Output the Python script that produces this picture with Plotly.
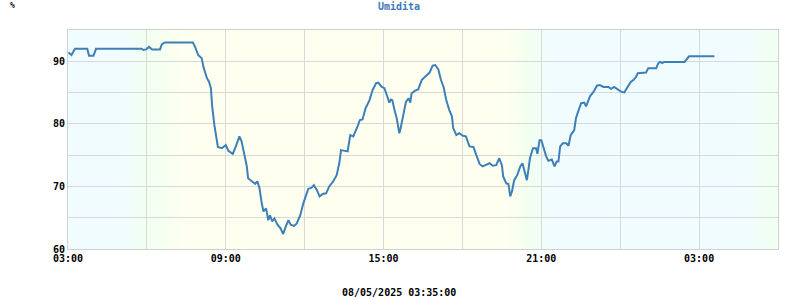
import plotly.graph_objects as go
from datetime import datetime, timedelta

# Time stamps (07/05/2025 -> 08/05/2025) and humidity values (%)
times = [
    "03:01", "03:08", "03:16", "03:44", "03:48", "03:58", "04:04", "05:48", "05:52", "05:58",
    "06:05", "06:12", "06:30", "06:34", "06:41", "07:45", "07:50", "07:57", "08:05", "08:09",
    "08:17", "08:22", "08:26", "08:29", "08:34", "08:38", "08:42", "08:51", "09:00", "09:06",
    "09:16", "09:23", "09:31", "09:36", "09:42", "09:48", "09:51", "09:59", "10:07", "10:12",
    "10:17", "10:22", "10:26", "10:32", "10:37", "10:41", "10:46", "10:51", "10:58", "11:05",
    "11:11", "11:17", "11:23", "11:28", "11:36", "11:42", "11:50", "11:57", "12:03", "12:08",
    "12:16", "12:21", "12:28", "12:34", "12:41", "12:49", "12:56", "13:05", "13:13", "13:19",
    "13:23", "13:30", "13:38", "13:44", "13:51", "13:59", "14:06", "14:12", "14:19", "14:28",
    "14:35", "14:43", "14:48", "14:56", "15:02", "15:09", "15:13", "15:17", "15:20", "15:25",
    "15:30", "15:36", "15:39", "15:45", "15:51", "15:57", "16:01", "16:04", "16:12", "16:19",
    "16:27", "16:39", "16:45", "16:52", "16:58", "17:05", "17:11", "17:17", "17:23", "17:30",
    "17:36", "17:39", "17:46", "17:53", "18:01", "18:08", "18:16", "18:25", "18:31", "18:39",
    "18:46", "18:54", "19:02", "19:09", "19:17", "19:24", "19:30", "19:33", "19:40", "19:45",
    "19:49", "19:53", "19:58", "20:05", "20:12", "20:17", "20:23", "20:27", "20:31", "20:34",
    "20:41", "20:48", "20:51", "20:56", "21:00", "21:05", "21:11", "21:16", "21:24", "21:30",
    "21:35", "21:39", "21:43", "21:49", "21:57", "22:02", "22:07", "22:15", "22:19", "22:25",
    "22:31", "22:38", "22:42", "22:46", "22:51", "22:59", "23:07", "23:13", "23:22", "23:33",
    "23:39", "23:46", "23:54", "00:01", "00:09", "00:16", "00:24", "00:30", "00:36", "00:40",
    "00:53", "00:59", "01:04", "01:22", "01:27", "01:31", "01:36", "01:40", "02:27", "02:32",
    "02:37", "03:35",
]
humidity = [
    91.4, 91.0, 92.0, 92.0, 90.9, 90.9, 92.0, 92.0, 91.8, 91.9,
    92.3, 91.9, 91.9, 92.7, 93.0, 93.0, 92.3, 91.0, 90.5, 89.1,
    87.3, 86.7, 85.7, 82.8, 79.8, 78.0, 76.3, 76.1, 76.6, 75.7,
    75.2, 76.4, 78.0, 77.2, 75.3, 73.2, 71.3, 70.8, 70.4, 70.8,
    69.7, 67.3, 66.0, 66.5, 64.6, 65.4, 64.4, 64.9, 63.9, 63.3,
    62.4, 63.6, 64.6, 63.9, 63.7, 64.1, 65.4, 67.3, 68.6, 69.6,
    69.8, 70.2, 69.4, 68.4, 68.8, 68.9, 70.0, 70.8, 71.8, 73.7,
    75.8, 75.7, 75.6, 78.2, 78.0, 79.3, 80.6, 80.7, 82.5, 83.8,
    85.4, 86.5, 86.6, 85.9, 85.7, 84.3, 83.4, 83.9, 83.8, 82.2,
    80.9, 78.5, 79.3, 81.4, 83.5, 84.1, 83.4, 84.9, 85.3, 85.5,
    87.0, 87.8, 88.2, 89.3, 89.4, 88.7, 87.0, 85.9, 83.8, 82.2,
    81.2, 79.3, 78.2, 78.5, 78.1, 78.0, 76.4, 76.3, 75.0, 73.6,
    73.2, 73.4, 73.7, 73.3, 73.4, 74.5, 73.4, 71.6, 70.5, 70.4,
    68.4, 69.2, 71.0, 71.8, 73.2, 73.7, 71.8, 71.0, 72.9, 74.5,
    76.1, 76.1, 75.2, 77.4, 77.4, 76.1, 74.8, 74.1, 74.3, 73.2,
    74.0, 74.0, 76.4, 76.9, 76.9, 76.5, 78.2, 79.0, 80.9, 82.2,
    83.3, 83.4, 82.8, 83.5, 84.4, 85.1, 86.1, 86.2, 85.9, 85.9,
    85.6, 85.9, 85.5, 85.2, 85.0, 85.9, 86.7, 87.0, 87.5, 88.1,
    88.1, 88.2, 88.9, 88.9, 89.7, 89.9, 89.7, 89.9, 89.9, 90.3,
    90.8, 90.8,
]
y_ticks = [60, 70, 80, 90]
title_text = "Umidita"
unit_text = "%"
footer_text = "08/05/2025 03:35:00"

# Build datetimes (day rolls over after midnight)
day1 = datetime(2025, 5, 7)
x = []
prev = -1
day = day1
for t in times:
    h, m = map(int, t.split(":"))
    mins = h * 60 + m
    if mins < prev:
        day = day + timedelta(days=1)
    prev = mins
    x.append(day + timedelta(hours=h, minutes=m))

x0 = datetime(2025, 5, 7, 3, 0)
x1 = datetime(2025, 5, 8, 6, 0)

# Day/night background gradient (hours since 03:00 -> rgb)
CY = (240, 252, 255)
GR = (240, 255, 240)
YE = (255, 255, 240)
stops = [(0, CY), (2.0, CY), (3.0, GR), (4.6, YE), (16.6, YE), (17.6, GR),
         (18.4, CY), (25.6, CY), (27.0, GR)]

def col_at(hh):
    for (a, ca), (b, cb) in zip(stops[:-1], stops[1:]):
        if a <= hh <= b:
            f = 0 if b == a else (hh - a) / (b - a)
            return tuple(round(ca[i] + (cb[i] - ca[i]) * f) for i in range(3))
    return stops[-1][1]

shapes = []
step = 0.1
n = int(27 / step)
for i in range(n):
    a = i * step
    c = col_at(a + step / 2)
    shapes.append(dict(type="rect", xref="x", yref="paper",
                       x0=x0 + timedelta(hours=a), x1=x0 + timedelta(hours=a + step + 0.02),
                       y0=0, y1=1, fillcolor="rgb(%d,%d,%d)" % c,
                       line=dict(width=0), layer="below"))

font = dict(family="DejaVu Sans Mono", size=10, color="#000000")

fig = go.Figure()
fig.add_trace(go.Scatter(x=x, y=humidity, mode="lines",
                         line=dict(color="#3d80b8", width=2),
                         hoverinfo="skip", showlegend=False))

fig.update_layout(
    width=800, height=300,
    margin=dict(l=68, r=22, t=30, b=51),
    paper_bgcolor="white", plot_bgcolor="white",
    shapes=shapes,
    font=font,
    xaxis=dict(range=[x0, x1], type="date", tick0=x0, dtick=6 * 3600 * 1000,
               tickformat="<b>%H:%M</b>", showgrid=True, gridcolor="#d9d9d9", gridwidth=1,
               minor=dict(dtick=3 * 3600 * 1000, tick0=x0, showgrid=True, gridcolor="#d9d9d9", gridwidth=1),
               showline=True, linecolor="#d0d0d0", linewidth=1, mirror=True,
               ticks="", zeroline=False, tickfont=font),
    yaxis=dict(range=[60, 95], tickvals=y_ticks, ticktext=["<b>%d</b>" % v for v in y_ticks],
               showgrid=True, gridcolor="#d9d9d9", gridwidth=1,
               minor=dict(dtick=5, tick0=60, showgrid=True, gridcolor="#d9d9d9", gridwidth=1),
               showline=True, linecolor="#d0d0d0", linewidth=1, mirror=True,
               ticks="", zeroline=False, tickfont=font),
    annotations=[
        dict(text="<b>%s</b>" % title_text, x=0.5, xref="paper", xanchor="center",
             y=6, yref="paper", yanchor="middle", showarrow=False,
             font=dict(family="DejaVu Sans Mono", size=10, color="#3d7ab8")),
    ],
)

# position annotations in pixel terms via paper coords
plot_h = 300 - 30 - 51
plot_w = 800 - 68 - 22
def py(ypix):
    return (300 - 51 - ypix) / plot_h
def px(xpix):
    return (xpix - 68) / plot_w

fig.layout.annotations = []
fig.add_annotation(text="<b>%s</b>" % title_text, x=px(399), xref="paper", xanchor="center",
                   y=py(6), yref="paper", yanchor="middle", showarrow=False,
                   font=dict(family="DejaVu Sans Mono", size=10, color="#3d7ab8"))
fig.add_annotation(text="<b>%s</b>" % unit_text, x=px(12.5), xref="paper", xanchor="center",
                   y=py(5), yref="paper", yanchor="middle", showarrow=False,
                   font=dict(family="DejaVu Sans Mono", size=8, color="#000000"))
fig.add_annotation(text="<b>%s</b>" % footer_text, x=px(399), xref="paper", xanchor="center",
                   y=py(292), yref="paper", yanchor="middle", showarrow=False,
                   font=dict(family="DejaVu Sans Mono", size=10, color="#000000"))

fig.write_html("out.html")
